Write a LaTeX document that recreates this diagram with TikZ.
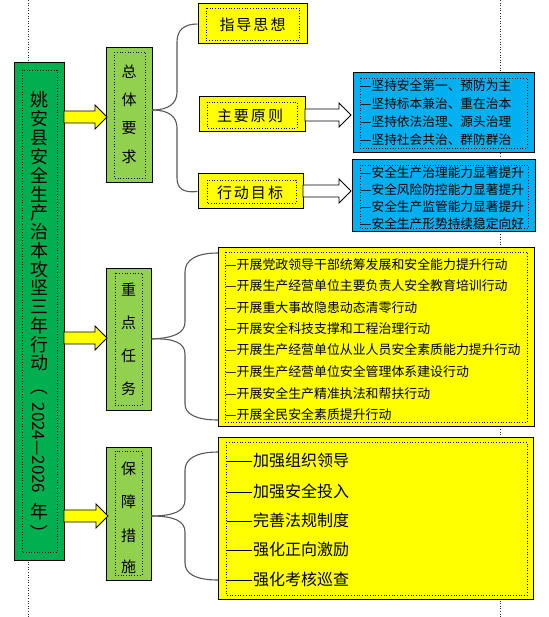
\documentclass[tikz,border=0pt]{standalone}
\usepackage{fontspec}
\usepackage{graphicx}
\newfontfamily\cjk{Noto Sans CJK SC}
\definecolor{mgreen}{HTML}{00B050}
\definecolor{lgreen}{HTML}{92D050}
\definecolor{byellow}{HTML}{FFFF00}
\definecolor{bblue}{HTML}{00B0F0}
\newcommand\blockarr[4]{% fill, x0, x1, y
  \draw[black, fill=#1, line width=0.8pt] (#2,#4-6) -- (#3-12,#4-6) -- (#3-12,#4-12) -- (#3,#4) -- (#3-12,#4+12) -- (#3-12,#4+6) -- (#2,#4+6) -- cycle;}
\begin{document}
\begin{tikzpicture}[x=1pt,y=-1pt,font=\cjk,
  box/.style={draw=black, line width=1pt, inner sep=0pt, shape=rectangle},
  dotf/.style={draw=black, dotted, line width=0.7pt},
  guide/.style={draw=black!80, dotted, line width=0.6pt},
  brace/.style={draw=black!65, line width=1.1pt},
  tchar/.style={inner sep=0pt, font=\cjk\fontsize{18}{18}\selectfont},
  vchar/.style={inner sep=0pt, font=\cjk\fontsize{15}{15}\selectfont},
  lvl3/.style={inner sep=0pt, font=\cjk\fontsize{15}{15}\selectfont},
  bline/.style={inner sep=0pt, anchor=west, font=\cjk\fontsize{12.7}{13}\selectfont},
  yline/.style={inner sep=0pt, anchor=west, font=\cjk\fontsize{12.9}{13}\selectfont},
  gline/.style={inner sep=0pt, anchor=west, font=\cjk\fontsize{16}{16}\selectfont},
]
\useasboundingbox (0,0) rectangle (548,617);
\fill[white] (0,0) rectangle (548,617);
% guide lines
\draw[guide] (28,0) -- (28,617);
\draw[guide] (500,0) -- (500,617);

% main box
\node[box, fill=mgreen, minimum width=50pt, minimum height=497pt] (main) at (39,311.5) {};
\draw[dotf] (22,70) rectangle (57,552);
\foreach \c [count=\i from 0] in {姚,安,县,安,全,生,产,治,本,攻,坚,三,年,行,动}
  \node[tchar] (tc\i) at (39,{100+18.8*\i}) {\c};
\node[tchar] (tp1) at (39,386) {\rotatebox{-90}{（}};
\node[tchar] (tyr) at (39,448) {\rotatebox{-90}{\fontsize{17}{17}\selectfont 2024—2026}};
\node[tchar] (tnian) at (39,512) {年};
\node[tchar] (tp2) at (39,533) {\rotatebox{-90}{）}};

% level 2 boxes
\node[box, fill=lgreen, minimum width=46pt, minimum height=135pt] (n1) at (129,115.5) {};
\draw[dotf] (114,52) rectangle (145,178);
\node[box, fill=lgreen, minimum width=45pt, minimum height=142pt] (n2) at (128.5,339) {};
\draw[dotf] (115,273) rectangle (142,405);
\node[box, fill=lgreen, minimum width=45pt, minimum height=133pt] (n3) at (128.5,513.5) {};
\draw[dotf] (115,451) rectangle (142,575);
\foreach \c/\y in {总/72,体/100,要/128,求/157} \node[vchar] at (129,\y) {\c};
\foreach \c/\y in {重/290,点/323,任/356,务/389} \node[vchar] at (128.5,\y) {\c};
\foreach \c/\y in {保/469,障/502,措/536,施/567} \node[vchar] at (128.5,\y) {\c};

% yellow block arrows main -> level 2
\blockarr{byellow}{64}{107}{117}
\blockarr{byellow}{64}{107}{338}
\blockarr{byellow}{64}{108}{516}

% level 3 boxes
\node[box, fill=byellow, minimum width=109pt, minimum height=40pt] (t1) at (252.5,24) {};
\draw[dotf] (206,8) rectangle (299,40);
\node[lvl3] at (252.5,25) {指\hspace{2pt}导\hspace{2pt}思\hspace{2pt}想};
\node[box, fill=byellow, minimum width=106pt, minimum height=35pt] (t2) at (252,114.5) {};
\draw[dotf] (207,102) rectangle (297,128);
\node[lvl3] at (250,116) {主\hspace{2pt}要\hspace{2pt}原\hspace{2pt}则};
\node[box, fill=byellow, minimum width=105pt, minimum height=35pt] (t3) at (250.5,191.5) {};
\draw[dotf] (207,180) rectangle (296,203);
\node[lvl3] at (250,193) {行\hspace{2pt}动\hspace{2pt}目\hspace{2pt}标};

% hollow arrows
\blockarr{white}{305}{351}{115}
\blockarr{white}{303}{351}{191}

% blue boxes
\node[box, fill=bblue, minimum width=181pt, minimum height=80pt] (b1) at (443.5,113) {};
\draw[dotf] (360,78) rectangle (527,148);
\foreach \t/\y in {—坚持安全第一、预防为主/86,—坚持标本兼治、重在治本/104,—坚持依法治理、源头治理/122,—坚持社会共治、群防群治/140}
  \node[bline] at (360,\y) {\t};
\node[box, fill=bblue, minimum width=183pt, minimum height=72pt] (b2) at (443.5,196) {};
\draw[dotf] (360,165) rectangle (528,228);
\foreach \t/\y in {—安全生产治理能力显著提升/173,—安全风险防控能力显著提升/190,—安全生产监管能力显著提升/207,—安全生产形势持续稳定向好/224}
  \node[bline] at (360,\y) {\t};

% key tasks list
\node[box, fill=byellow, minimum width=316pt, minimum height=179pt] (y1) at (376,336.5) {};
\draw[dotf] (225,252) rectangle (527,422);
\foreach \t/\y in {—开展党政领导干部统筹发展和安全能力提升行动/265,
  —开展生产经营单位主要负责人安全教育培训行动/286,
  —开展重大事故隐患动态清零行动/308,
  —开展安全科技支撑和工程治理行动/329,
  —开展生产经营单位从业人员安全素质能力提升行动/350,
  —开展生产经营单位安全管理体系建设行动/372,
  —开展安全生产精准执法和帮扶行动/394,
  —开展全民安全素质提升行动/415}
  \node[yline] at (225,\y) {\t};

% safeguards list
\node[box, fill=byellow, minimum width=315pt, minimum height=162pt] (y2) at (375.5,518) {};
\draw[dotf] (226,442) rectangle (527,595);
\foreach \t/\y in {——加强组织领导/460,——加强安全投入/491,——完善法规制度/520,——强化正向激励/549,——强化考核巡查/579}
  \node[gline] at (226,\y) {\t};

% braces
\coordinate (c1) at (152,110);
\draw[brace] (c1) .. controls (168,110) and (177,104) .. (177,92) -- (177,42) .. controls (177,30) and (184,24) .. (t1.west);
\draw[brace] (c1) .. controls (168,110) and (177,116) .. (177,128) -- (177,178) .. controls (177,189) and (184,193) .. (t3.west);
\coordinate (c2) at (n2.east);
\coordinate (e2a) at (218,253);
\coordinate (e2b) at (218,420);
\draw[brace] (c2) .. controls (174,338) and (185,333) .. (185,322) -- (185,272) .. controls (185,260) and (196,253) .. (e2a);
\draw[brace] (c2) .. controls (174,338) and (185,343) .. (185,354) -- (185,404) .. controls (185,414) and (196,420) .. (e2b);
\coordinate (c3) at (151,516);
\coordinate (e3a) at (218,452);
\coordinate (e3b) at (218,580);
\draw[brace] (c3) .. controls (174,516) and (185,511) .. (185,500) -- (185,470) .. controls (185,459) and (196,452) .. (e3a);
\draw[brace] (c3) .. controls (174,516) and (185,521) .. (185,532) -- (185,563) .. controls (185,574) and (196,580) .. (e3b);
\end{tikzpicture}
\end{document}
